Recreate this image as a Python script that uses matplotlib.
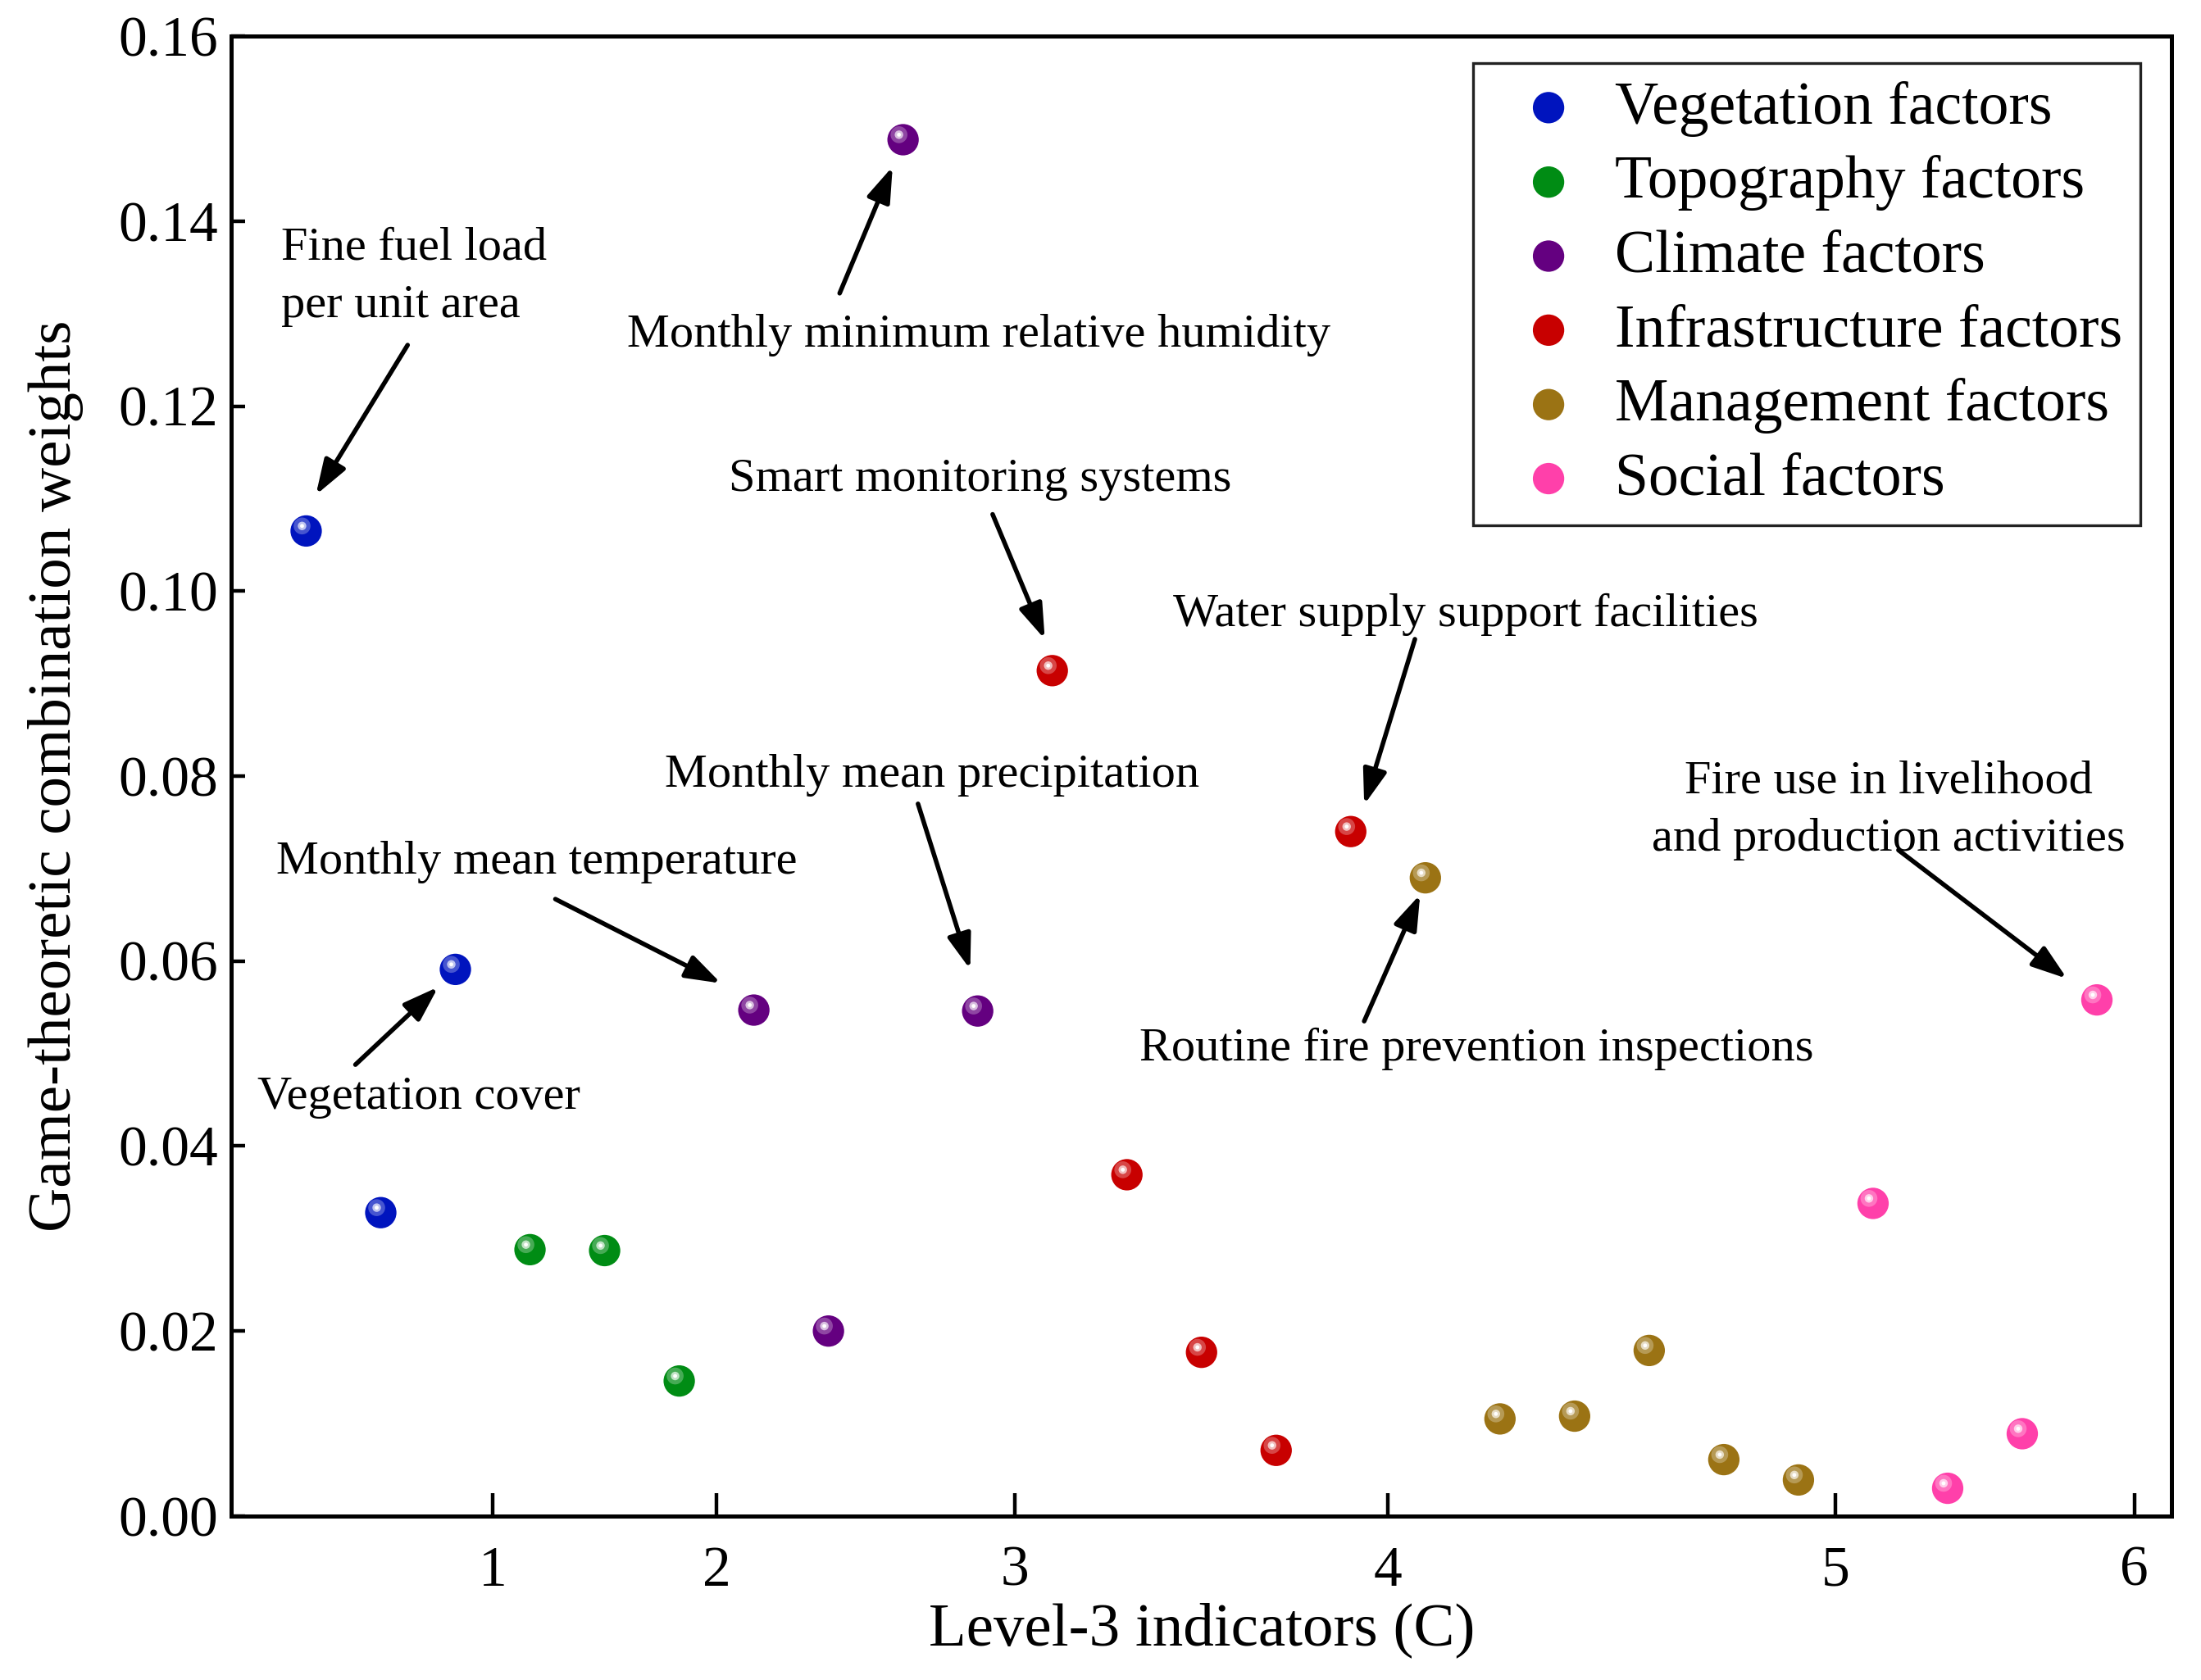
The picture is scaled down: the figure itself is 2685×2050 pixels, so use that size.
import matplotlib
matplotlib.use("Agg")
import matplotlib.pyplot as plt
import matplotlib.transforms as mtransforms
import numpy as np
from matplotlib.colors import to_rgb

plt.rcParams["font.family"] = ["Liberation Serif", "DejaVu Serif"]

# factor groups, in the order they appear on the x axis
groups = ["Vegetation factors", "Topography factors", "Climate factors",
          "Infrastructure factors", "Management factors", "Social factors"]
group_sizes = [3, 3, 4, 5, 6, 4]
group_colors = ["#0014be", "#008c14", "#640080", "#c80000", "#9b7314", "#ff40aa"]
group_ticklabels = ["1", "2", "3", "4", "5", "6"]

# game-theoretic combination weights of the 25 level-3 indicators
weights = [0.1065, 0.0328, 0.0591,
           0.0288, 0.0287, 0.0146,
           0.0547, 0.0200, 0.1488, 0.0546,
           0.0914, 0.0369, 0.0177, 0.0071, 0.0740,
           0.0690, 0.0105, 0.0108, 0.0179, 0.0061, 0.0039,
           0.0338, 0.0030, 0.0089, 0.0558]

# annotations: (text, text position, arrow tail, arrow head, alignment)
notes = [
    ("Fine fuel load\nper unit area", (0.66, 0.1340), (2.36, 0.1266), (1.13, 0.1104), "left"),
    ("Monthly minimum relative humidity", (10.01, 0.1277), (8.15, 0.1322), (8.86, 0.1459), "center"),
    ("Smart monitoring systems", (10.03, 0.1121), (10.20, 0.1083), (10.90, 0.0948), "center"),
    ("Water supply support facilities", (16.54, 0.0975), (15.86, 0.0948), (15.18, 0.0769), "center"),
    ("Monthly mean precipitation", (9.39, 0.0801), (9.20, 0.0770), (9.90, 0.0591), "center"),
    ("Monthly mean temperature", (4.09, 0.0707), (4.34, 0.0667), (6.56, 0.0576), "center"),
    ("Vegetation cover", (2.51, 0.0453), (1.66, 0.0488), (2.77, 0.0572), "center"),
    ("Routine fire prevention inspections", (16.69, 0.0505), (15.18, 0.0535), (15.93, 0.0672), "center"),
    ("Fire use in livelihood\nand production activities", (22.21, 0.0763), (22.34, 0.0720), (24.60, 0.0581), "center"),
]


def lighten(color, amount):
    r, g, b = to_rgb(color)
    return (r + (1 - r) * amount, g + (1 - g) * amount, b + (1 - b) * amount)


def main() -> None:
    fig = plt.figure(figsize=(13.425, 10.25), dpi=200)
    ax = fig.add_axes([0.1052, 0.0976, 0.8814, 0.8809])

    shine = mtransforms.offset_copy(ax.transData, fig=fig, x=-1.8, y=2.2, units="points")

    handles = []
    start = 0
    for name, size, color in zip(groups, group_sizes, group_colors):
        xs = np.arange(start + 1, start + size + 1)
        ys = weights[start:start + size]
        base = ax.scatter(xs, ys, s=190, color=color, edgecolors="none", zorder=3, label=name)
        ax.scatter(xs, ys, s=55, color=lighten(color, 0.35), edgecolors="none",
                   alpha=0.8, zorder=4, transform=shine)
        ax.scatter(xs, ys, s=14, color=lighten(color, 0.75), edgecolors="none",
                   zorder=5, transform=shine)
        ax.scatter(xs, ys, s=3, color="white", edgecolors="none", zorder=6, transform=shine)
        handles.append(base)
        start += size

    for text, pos, tail, head, align in notes:
        ax.text(pos[0], pos[1], text, fontsize=21, ha=align, va="center",
                multialignment="center" if align == "center" else "left",
                linespacing=1.45, zorder=7)
        ax.annotate("", xy=head, xytext=tail,
                    arrowprops=dict(arrowstyle="-|>,head_length=0.65,head_width=0.22",
                                    mutation_scale=20, lw=2.0, color="black",
                                    shrinkA=0, shrinkB=0),
                    zorder=7)

    bounds = np.cumsum(group_sizes) + 0.5
    ax.set_xticks(bounds)
    ax.set_xticklabels(group_ticklabels)
    ax.set_xlim(0, 26)
    ax.set_ylim(0, 0.16)
    ax.set_yticks(np.arange(0, 0.161, 0.02))
    ax.set_yticklabels([f"{v:.2f}" for v in np.arange(0, 0.161, 0.02)])

    ax.tick_params(axis="x", direction="in", length=10, width=1.6, labelsize=25, pad=13,
                   top=False)
    ax.tick_params(axis="y", direction="in", length=6, width=1.6, labelsize=25, pad=6,
                   right=False)
    for spine in ax.spines.values():
        spine.set_linewidth(1.8)

    ax.set_xlabel("Level-3 indicators (C)", fontsize=27, labelpad=2)
    ax.set_ylabel("Game-theoretic combination weights", fontsize=27, labelpad=15)

    leg = ax.legend(handles=handles, labels=groups, loc="upper left",
                    bbox_to_anchor=(0.640, 0.982), fontsize=26.5, frameon=True,
                    fancybox=False, framealpha=1, edgecolor="#222222",
                    borderpad=0.3, handlelength=1.9, handletextpad=0.15,
                    labelspacing=0.31, borderaxespad=0, scatterpoints=1)
    leg.get_frame().set_linewidth(1.2)

    fig.savefig("out.png", dpi=200)
    plt.close(fig)


if __name__ == "__main__":
    main()
